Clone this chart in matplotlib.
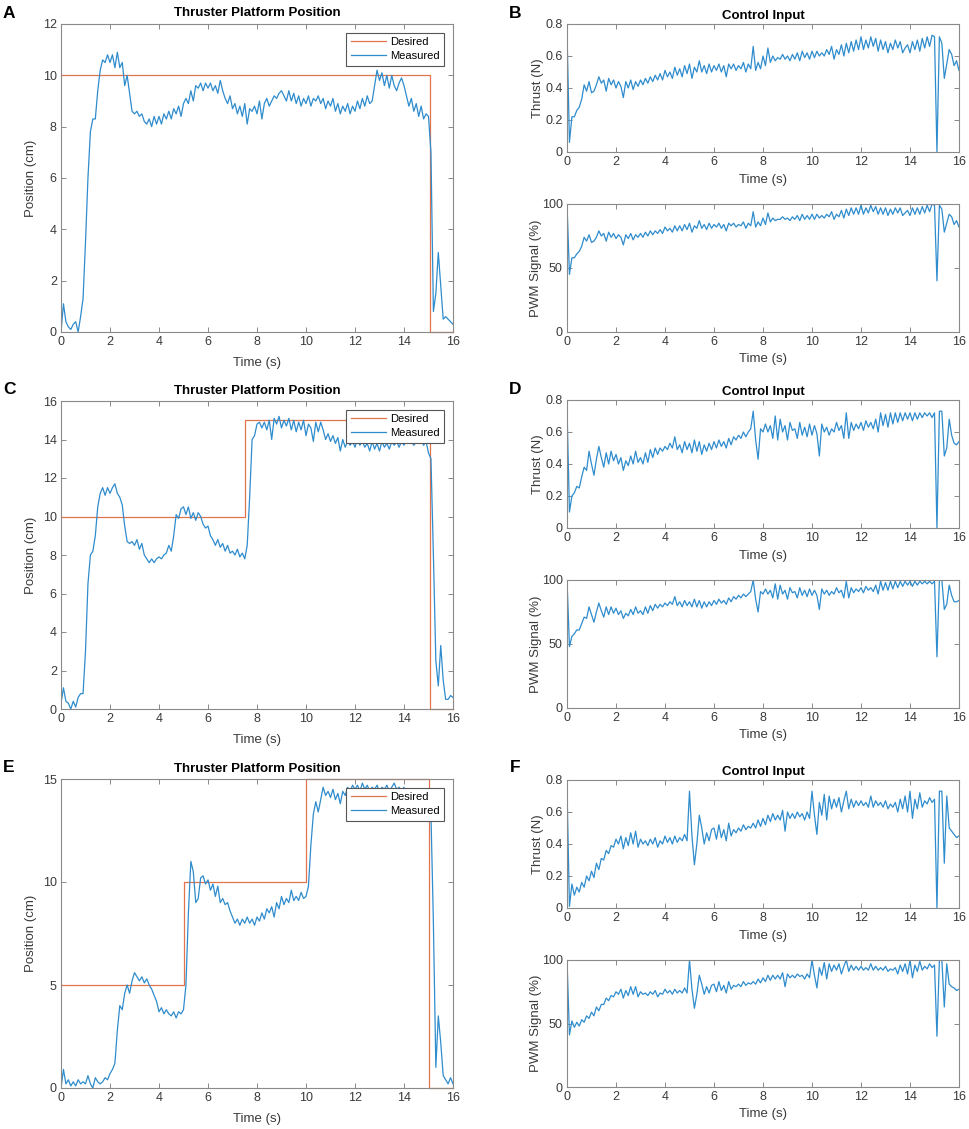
import numpy as np
import matplotlib
matplotlib.use('Agg')
import matplotlib.pyplot as plt

plt.rcParams['font.family'] = ['Liberation Sans', 'DejaVu Sans']

W, H = 969, 1129

# time base, 0.1 s steps, 0..16 s
time = np.round(np.arange(161) * 0.1, 1)

# ---- panel A: position, single step to 10 cm ----
des_a_t = [0, 15.05, 15.05, 16]
des_a = [10, 10, 0, 0]
pos_a = [
    0.0, 1.1, 0.4, 0.2, 0.1, 0.3, 0.4, 0.0, 0.6, 1.3,
    3.5, 6.0, 7.8, 8.3, 8.3, 9.4, 10.2, 10.6, 10.5, 10.8,
    10.5, 10.8, 10.3, 10.9, 10.3, 10.5, 9.6, 10.0, 9.3, 8.6,
    8.5, 8.6, 8.4, 8.5, 8.2, 8.1, 8.3, 8.0, 8.4, 8.1,
    8.4, 8.1, 8.5, 8.3, 8.6, 8.3, 8.7, 8.5, 8.8, 8.4,
    8.9, 9.1, 8.9, 9.4, 9.0, 9.6, 9.5, 9.7, 9.4, 9.7,
    9.5, 9.7, 9.4, 9.6, 9.3, 9.8, 9.4, 9.1, 8.9, 9.2,
    8.7, 8.9, 8.5, 8.8, 8.4, 8.9, 8.1, 8.7, 8.6, 8.8,
    8.5, 9.0, 8.3, 8.9, 9.1, 8.8, 9.0, 9.2, 9.1, 9.3,
    9.4, 9.2, 9.0, 9.4, 9.0, 9.3, 8.9, 9.2, 8.8, 9.1,
    8.9, 9.2, 8.8, 9.1, 9.0, 9.2, 8.9, 9.1, 8.7, 9.0,
    8.8, 9.1, 8.6, 8.9, 8.5, 8.8, 8.6, 8.9, 8.5, 8.8,
    8.6, 9.0, 8.7, 9.1, 8.8, 9.2, 8.9, 9.0, 9.6, 10.2,
    9.8, 10.1, 9.6, 10.0, 9.5, 10.0, 9.6, 9.4, 9.7, 9.9,
    9.6, 9.2, 8.8, 9.1, 8.6, 8.9, 8.4, 8.8, 8.3, 8.5,
    8.4, 7.0, 0.8, 1.5, 3.1, 1.8, 0.5, 0.6, 0.5, 0.4,
    0.3]

# ---- panel B: control input ----
thrust_b = [
    0.75, 0.06, 0.22, 0.22, 0.26, 0.28, 0.33, 0.42, 0.38, 0.44,
    0.37, 0.38, 0.42, 0.47, 0.43, 0.45, 0.38, 0.46, 0.42, 0.45,
    0.40, 0.44, 0.41, 0.34, 0.44, 0.40, 0.45, 0.39, 0.44, 0.41,
    0.45, 0.42, 0.46, 0.43, 0.47, 0.44, 0.48, 0.45, 0.49, 0.45,
    0.51, 0.47, 0.50, 0.46, 0.53, 0.48, 0.52, 0.47, 0.54, 0.49,
    0.55, 0.46, 0.53, 0.50, 0.57, 0.50, 0.54, 0.49, 0.55, 0.50,
    0.54, 0.51, 0.55, 0.50, 0.54, 0.47, 0.55, 0.52, 0.55, 0.51,
    0.54, 0.52, 0.56, 0.50, 0.55, 0.52, 0.66, 0.51, 0.56, 0.52,
    0.60, 0.54, 0.65, 0.56, 0.60, 0.57, 0.59, 0.58, 0.61, 0.58,
    0.60, 0.57, 0.61, 0.58, 0.62, 0.57, 0.63, 0.59, 0.62, 0.58,
    0.63, 0.59, 0.63, 0.60, 0.62, 0.60, 0.64, 0.61, 0.66, 0.58,
    0.64, 0.61, 0.67, 0.60, 0.68, 0.62, 0.69, 0.63, 0.70, 0.64,
    0.72, 0.64, 0.70, 0.65, 0.72, 0.66, 0.71, 0.63, 0.70, 0.64,
    0.69, 0.62, 0.68, 0.64, 0.70, 0.65, 0.69, 0.62, 0.65, 0.67,
    0.62, 0.69, 0.64, 0.70, 0.63, 0.71, 0.65, 0.72, 0.66, 0.73,
    0.72, 0.00, 0.72, 0.68, 0.46, 0.55, 0.64, 0.61, 0.54, 0.57,
    0.51]
pwm_b = [
    100, 45, 58, 58, 61, 63, 67, 74, 71, 76,
    70, 71, 74, 79, 75, 77, 71, 78, 74, 77,
    73, 76, 74, 68, 76, 73, 77, 72, 76, 74,
    77, 74, 78, 75, 79, 76, 79, 77, 80, 77,
    82, 79, 81, 78, 83, 79, 83, 79, 84, 80,
    85, 78, 83, 81, 87, 81, 84, 80, 85, 81,
    84, 82, 85, 81, 84, 79, 85, 83, 85, 82,
    84, 83, 86, 81, 85, 83, 94, 82, 86, 83,
    89, 84, 93, 86, 89, 87, 88, 88, 90, 88,
    89, 87, 90, 88, 91, 87, 92, 88, 91, 88,
    92, 88, 92, 89, 91, 89, 92, 90, 94, 88,
    92, 90, 95, 89, 96, 91, 97, 92, 97, 92,
    99, 92, 97, 93, 99, 94, 98, 92, 97, 92,
    97, 91, 96, 92, 97, 93, 97, 91, 93, 95,
    91, 97, 92, 97, 92, 98, 93, 99, 94, 100,
    99, 40, 99, 96, 78, 85, 92, 90, 84, 87,
    82]

# ---- panel C: position, steps 10 -> 15 cm ----
des_c_t = [0, 7.53, 7.53, 15.05, 15.05, 16]
des_c = [10, 10, 15, 15, 0, 0]
pos_c = [
    0.3, 1.1, 0.4, 0.3, 0.0, 0.4, 0.1, 0.6, 0.8, 0.8,
    3.0, 6.5, 8.0, 8.2, 9.0, 10.5, 11.2, 11.5, 11.1, 11.5,
    11.2, 11.5, 11.7, 11.2, 11.0, 10.6, 9.5, 8.7, 8.6, 8.7,
    8.5, 8.8, 8.3, 8.6, 8.0, 7.8, 7.6, 7.8, 7.6, 7.8,
    7.9, 7.8, 8.0, 8.1, 8.5, 8.2, 9.0, 10.1, 9.9, 10.4,
    10.5, 10.1, 10.5, 9.9, 10.2, 9.8, 10.2, 10.0, 9.6, 9.4,
    9.5, 9.0, 8.8, 8.5, 8.8, 8.4, 8.6, 8.2, 8.5, 8.1,
    8.2, 8.0, 8.3, 7.9, 8.1, 7.8, 8.5, 11.0, 14.0, 14.2,
    14.8, 14.9, 14.6, 14.9, 14.5, 15.0, 14.0, 15.1, 14.8, 15.2,
    14.6, 15.0, 14.7, 15.1, 14.5, 15.0, 14.4, 14.9, 14.5, 15.0,
    14.2, 14.8, 14.6, 13.9, 14.9, 14.4, 14.9, 14.5, 14.0, 14.3,
    13.9, 14.2, 13.8, 14.1, 13.4, 14.0, 13.6, 13.9, 13.7, 13.9,
    13.6, 14.0, 13.7, 13.9, 13.6, 13.8, 13.4, 13.9, 13.5, 13.8,
    13.4, 13.9, 13.6, 13.8, 13.5, 13.9, 13.7, 13.9, 13.6, 13.9,
    13.7, 14.0, 13.8, 13.9, 13.7, 13.9, 13.8, 14.0, 13.7, 13.9,
    13.3, 13.0, 8.0, 2.5, 1.2, 3.3, 1.5, 0.5, 0.5, 0.7,
    0.6]

# ---- panel D: control input ----
thrust_d = [
    0.75, 0.10, 0.20, 0.22, 0.26, 0.25, 0.32, 0.38, 0.36, 0.48,
    0.40, 0.33, 0.43, 0.51, 0.44, 0.38, 0.47, 0.40, 0.48, 0.42,
    0.46, 0.40, 0.44, 0.36, 0.42, 0.39, 0.45, 0.40, 0.48, 0.41,
    0.44, 0.40, 0.47, 0.41, 0.49, 0.44, 0.50, 0.46, 0.50, 0.48,
    0.51, 0.49, 0.53, 0.50, 0.57, 0.49, 0.52, 0.47, 0.54, 0.49,
    0.53, 0.47, 0.55, 0.48, 0.54, 0.46, 0.52, 0.48, 0.53, 0.49,
    0.54, 0.50, 0.55, 0.51, 0.54, 0.50, 0.56, 0.52, 0.57, 0.55,
    0.58, 0.56, 0.60, 0.57, 0.60, 0.62, 0.73, 0.55, 0.43, 0.62,
    0.60, 0.65, 0.60, 0.64, 0.56, 0.70, 0.55, 0.68, 0.60, 0.64,
    0.55, 0.66, 0.61, 0.62, 0.56, 0.66, 0.58, 0.63, 0.57, 0.65,
    0.58, 0.64, 0.59, 0.45, 0.65, 0.60, 0.63, 0.58, 0.62, 0.60,
    0.66, 0.61, 0.64, 0.56, 0.72, 0.56, 0.66, 0.61, 0.65, 0.62,
    0.66, 0.61, 0.67, 0.63, 0.66, 0.62, 0.68, 0.60, 0.72, 0.64,
    0.71, 0.63, 0.72, 0.65, 0.72, 0.66, 0.72, 0.67, 0.72, 0.68,
    0.72, 0.67, 0.72, 0.68, 0.72, 0.69, 0.72, 0.70, 0.72, 0.69,
    0.72, 0.00, 0.73, 0.73, 0.45, 0.50, 0.68, 0.58, 0.53, 0.52,
    0.54]
pwm_d = [
    100, 48, 56, 58, 61, 61, 66, 71, 70, 79,
    73, 67, 75, 82, 76, 71, 79, 73, 79, 74,
    78, 73, 76, 70, 74, 72, 77, 73, 79, 74,
    76, 73, 79, 74, 80, 76, 81, 78, 81, 79,
    82, 80, 83, 81, 87, 80, 83, 79, 84, 80,
    83, 79, 85, 79, 84, 78, 83, 79, 83, 80,
    84, 81, 85, 82, 84, 81, 86, 83, 87, 85,
    88, 86, 89, 87, 89, 91, 100, 85, 75, 91,
    89, 93, 89, 92, 86, 97, 85, 96, 89, 92,
    85, 94, 90, 91, 86, 94, 88, 92, 87, 93,
    88, 92, 88, 77, 93, 89, 92, 88, 91, 89,
    94, 90, 92, 86, 99, 86, 94, 90, 93, 91,
    94, 90, 95, 92, 94, 91, 96, 89, 99, 92,
    98, 92, 99, 93, 99, 94, 99, 95, 99, 96,
    99, 95, 99, 96, 99, 97, 99, 97, 99, 97,
    99, 40, 100, 100, 77, 81, 96, 88, 83, 83,
    84]

# ---- panel E: position, steps 5 -> 10 -> 15 cm ----
des_e_t = [0, 5.02, 5.02, 10.0, 10.0, 15.0, 15.0, 16]
des_e = [5, 5, 10, 10, 15, 15, 0, 0]
pos_e = [
    0.0, 0.9, 0.2, 0.4, 0.1, 0.3, 0.1, 0.4, 0.2, 0.3,
    0.2, 0.6, 0.2, 0.0, 0.5, 0.3, 0.2, 0.3, 0.5, 0.4,
    0.7, 0.9, 1.2, 2.8, 4.0, 3.8, 4.6, 5.0, 4.6, 5.2,
    5.6, 5.4, 5.2, 5.4, 5.1, 5.3, 5.0, 4.8, 4.5, 4.2,
    3.7, 3.9, 3.6, 3.8, 3.6, 3.5, 3.7, 3.4, 3.7, 3.6,
    3.8, 5.0, 8.5, 11.0, 10.5, 9.0, 9.2, 10.2, 10.3, 9.9,
    10.1, 9.6, 9.9, 9.3, 9.8, 9.0, 9.2, 8.9, 9.0, 8.6,
    8.3, 8.0, 8.2, 7.9, 8.2, 8.0, 8.3, 8.0, 8.2, 7.9,
    8.3, 8.1, 8.5, 8.2, 8.7, 8.5, 8.8, 8.3, 9.0, 8.7,
    9.3, 8.9, 9.2, 9.0, 9.6, 9.1, 9.3, 9.1, 9.5, 9.2,
    9.3, 9.8, 11.8, 13.3, 13.9, 13.4, 14.0, 14.6, 14.2, 14.4,
    14.1, 14.5, 14.0, 14.3, 13.8, 14.4, 14.2, 14.6, 14.4, 14.7,
    14.5, 14.7, 14.4, 14.8, 14.5, 14.7, 14.4, 14.6, 14.5, 14.7,
    14.4, 14.6, 14.5, 14.7, 14.4, 14.6, 14.8, 14.5, 14.6, 14.4,
    14.6, 14.3, 14.5, 14.2, 14.3, 14.1, 14.2, 14.0, 14.1, 13.9,
    13.8, 13.3, 8.0, 1.0, 3.5, 2.2, 0.6, 0.4, 0.2, 0.5,
    0.2]

# ---- panel F: control input ----
thrust_f = [
    0.75, 0.01, 0.15, 0.08, 0.13, 0.10, 0.16, 0.13, 0.20, 0.17,
    0.23, 0.19, 0.28, 0.24, 0.31, 0.30, 0.36, 0.34, 0.39, 0.38,
    0.43, 0.40, 0.45, 0.37, 0.44, 0.39, 0.47, 0.40, 0.48, 0.38,
    0.43, 0.40, 0.42, 0.39, 0.43, 0.40, 0.44, 0.38, 0.42, 0.40,
    0.45, 0.41, 0.44, 0.40, 0.45, 0.41, 0.44, 0.42, 0.46, 0.42,
    0.73, 0.45, 0.27, 0.40, 0.58, 0.50, 0.40, 0.47, 0.42, 0.49,
    0.50, 0.43, 0.52, 0.44, 0.49, 0.42, 0.53, 0.45, 0.49, 0.47,
    0.50, 0.48, 0.52, 0.49, 0.51, 0.50, 0.53, 0.50, 0.55, 0.51,
    0.56, 0.52, 0.58, 0.54, 0.59, 0.55, 0.58, 0.55, 0.61, 0.48,
    0.60, 0.56, 0.59, 0.56, 0.60, 0.57, 0.59, 0.55, 0.60, 0.56,
    0.73, 0.58, 0.46, 0.66, 0.58, 0.71, 0.55, 0.70, 0.62, 0.68,
    0.63, 0.69, 0.60, 0.67, 0.73, 0.62, 0.68, 0.63, 0.67, 0.64,
    0.67, 0.64, 0.66, 0.63, 0.70, 0.63, 0.67, 0.64, 0.66, 0.63,
    0.67, 0.62, 0.65, 0.63, 0.66, 0.60, 0.68, 0.62, 0.70, 0.60,
    0.73, 0.56, 0.68, 0.62, 0.72, 0.63, 0.67, 0.65, 0.69, 0.66,
    0.68, 0.00, 0.73, 0.73, 0.28, 0.70, 0.50, 0.48, 0.46, 0.44,
    0.45]
pwm_f = [
    100, 41, 52, 47, 51, 48, 53, 51, 56, 54,
    59, 56, 63, 60, 65, 65, 70, 68, 72, 71,
    75, 73, 77, 70, 76, 72, 79, 73, 79, 71,
    75, 73, 74, 72, 75, 73, 76, 71, 74, 73,
    77, 74, 76, 73, 77, 74, 76, 74, 78, 74,
    100, 77, 62, 73, 88, 81, 73, 79, 74, 80,
    81, 75, 83, 76, 80, 74, 83, 77, 80, 79,
    81, 79, 83, 80, 82, 81, 83, 81, 85, 82,
    86, 83, 88, 84, 88, 85, 88, 85, 90, 79,
    89, 86, 88, 86, 89, 87, 88, 85, 89, 86,
    100, 88, 78, 94, 88, 98, 85, 97, 91, 96,
    92, 97, 89, 95, 100, 91, 96, 92, 95, 92,
    95, 92, 94, 92, 97, 92, 95, 92, 94, 92,
    95, 91, 93, 92, 94, 89, 96, 91, 97, 89,
    100, 86, 96, 91, 99, 92, 95, 93, 97, 94,
    96, 40, 100, 100, 63, 97, 81, 79, 78, 76,
    77]

C_DES = '#E3734C'
C_MEAS = '#2F8CCD'
EDGE = '#8a8a8a'
TXT = '#3a3a3a'

fig = plt.figure(figsize=(W / 100, H / 100), dpi=100)


def px_axes(x0, y0, x1, y1):
    # axes box given in figure pixels (top-left origin)
    return fig.add_axes([x0 / W, 1 - y1 / H, (x1 - x0) / W, (y1 - y0) / H])


def style(ax, ylim, yticks, ylabels, ylabel, xl_off, yl_off):
    ax.set_xlim(0, 16)
    ax.set_ylim(*ylim)
    ax.set_xticks(range(0, 17, 2))
    ax.set_yticks(yticks)
    ax.set_yticklabels(ylabels)
    ax.tick_params(direction='in', length=3.5, width=0.7, top=True, right=True,
                   labelsize=9, colors=EDGE, labelcolor=TXT, pad=3)
    for s in ax.spines.values():
        s.set_color(EDGE)
        s.set_linewidth(0.8)
    bb = ax.get_position()
    w_px, h_px = bb.width * W, bb.height * H
    ax.set_xlabel('Time (s)', fontsize=9.5, color=TXT, va='center')
    ax.xaxis.set_label_coords(0.5, -xl_off / h_px)
    ax.set_ylabel(ylabel, fontsize=9.5, color=TXT, va='center')
    ax.yaxis.set_label_coords(-yl_off / w_px, 0.5)


def title(ax, txt, off):
    h_px = ax.get_position().height * H
    ax.text(0.5, 1 + off / h_px, txt, transform=ax.transAxes, ha='center',
            va='center', fontsize=9.5, fontweight='bold')


def position_panel(box, t_des, v_des, meas, ylim, yticks):
    ax = px_axes(*box)
    ax.plot(t_des, v_des, color=C_DES, lw=0.9, label='Desired', clip_on=False)
    ax.plot(time, meas, color=C_MEAS, lw=0.9, label='Measured')
    style(ax, ylim, yticks, [str(v) for v in yticks], 'Position (cm)', 31, 30)
    title(ax, 'Thruster Platform Position', 10.5)
    leg = ax.legend(loc='upper right', fontsize=8, fancybox=False, framealpha=1,
                    edgecolor='#555555', borderaxespad=0.8, handlelength=3.2,
                    handletextpad=0.35, borderpad=0.4, labelspacing=0.35)
    leg.get_frame().set_linewidth(0.8)
    return ax


def control_panel(box_t, box_p, thrust, pwm):
    ax1 = px_axes(*box_t)
    ax1.plot(time, thrust, color=C_MEAS, lw=0.9)
    style(ax1, (0, 0.8), [0, 0.2, 0.4, 0.6, 0.8], ['0', '0.2', '0.4', '0.6', '0.8'],
          'Thrust (N)', 28, 29)
    title(ax1, 'Control Input', 8.3)
    ax2 = px_axes(*box_p)
    ax2.plot(time, pwm, color=C_MEAS, lw=0.9)
    style(ax2, (0, 100), [0, 50, 100], ['0', '50', '100'], 'PWM Signal (%)', 27, 31)
    return ax1, ax2


position_panel((61, 24, 453, 332), des_a_t, des_a, pos_a, (0, 12), list(range(0, 13, 2)))
control_panel((567, 24, 959, 152), (567, 204, 959, 332), thrust_b, pwm_b)

position_panel((61, 401, 453, 709), des_c_t, des_c, pos_c, (0, 16), list(range(0, 17, 2)))
control_panel((567, 400, 959, 528), (567, 580, 959, 708), thrust_d, pwm_d)

position_panel((61, 779, 453, 1088), des_e_t, des_e, pos_e, (0, 15), [0, 5, 10, 15])
control_panel((567, 780, 959, 908), (567, 960, 959, 1087), thrust_f, pwm_f)

# panel letters
for letter, x, y in [('A', 9, 13), ('B', 515, 13), ('C', 9, 390),
                     ('D', 515, 390), ('E', 9, 767), ('F', 515, 768)]:
    fig.text(x / W, 1 - y / H, letter, fontsize=12.5, fontweight='bold',
             ha='center', va='center')

fig.savefig('out.png', dpi=100)
